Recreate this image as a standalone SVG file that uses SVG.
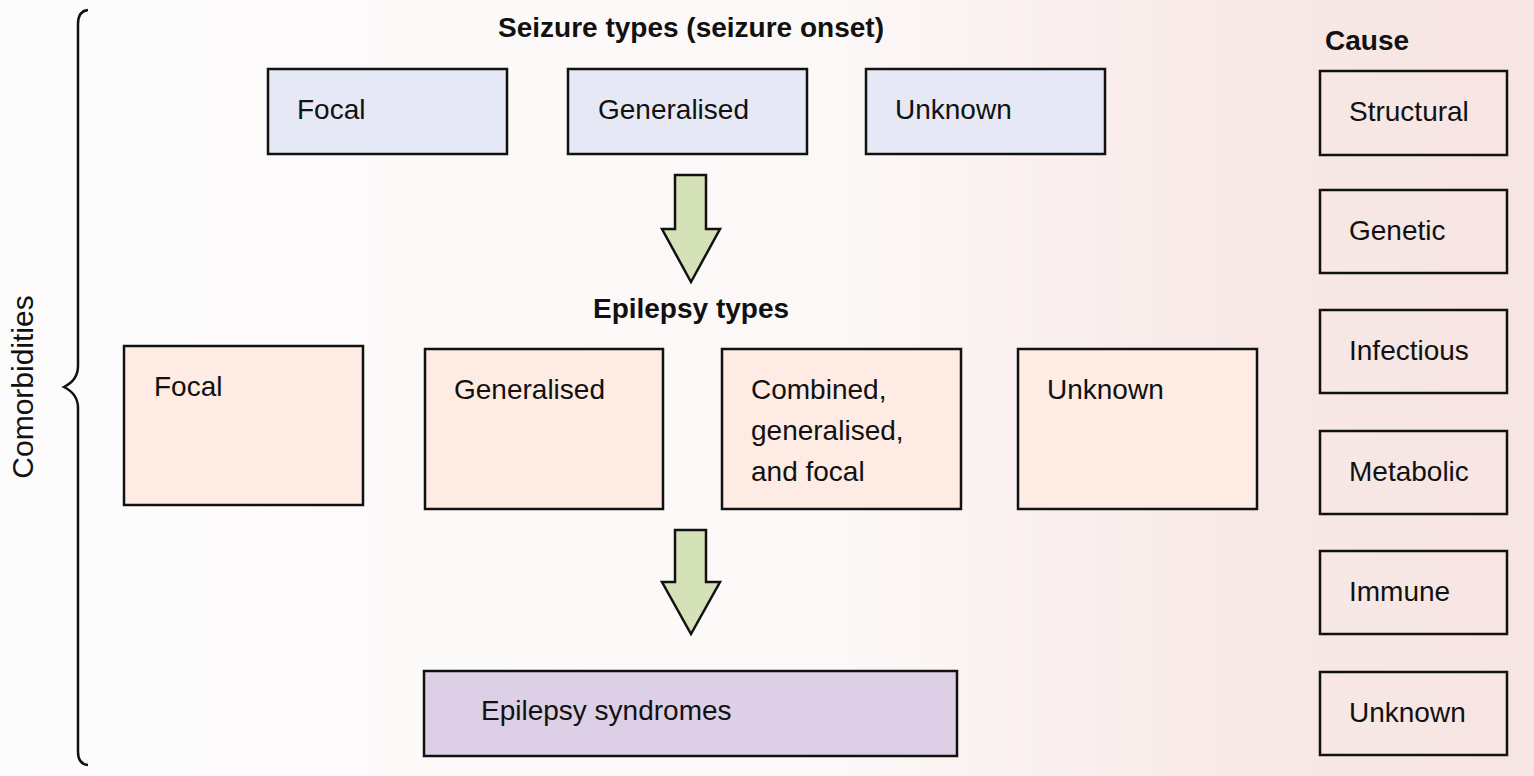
<svg xmlns="http://www.w3.org/2000/svg" width="1534" height="776" viewBox="0 0 1534 776">
<defs>
<linearGradient id="bg" x1="0" y1="0" x2="1534" y2="0" gradientUnits="userSpaceOnUse">
<stop offset="0" stop-color="#fdfcfc"/>
<stop offset="0.55" stop-color="#fcf8f7"/>
<stop offset="0.84" stop-color="#f7e7e5"/>
<stop offset="1" stop-color="#f6e5e3"/>
</linearGradient>
<style>
.box{stroke:#111;stroke-width:2.5}
.seiz{fill:#e6e9f5}
.epi{fill:#fdebe4}
.syn{fill:#dccfe6}
.cause{fill:none}
.arrow{fill:#d5e2b8;stroke:#111;stroke-width:2.5;stroke-linejoin:miter}
.t{font-family:"Liberation Sans",Arial,sans-serif;font-size:28px;fill:#111}
.h{font-family:"Liberation Sans",Arial,sans-serif;font-size:28px;font-weight:bold;fill:#111}
</style>
</defs>
<rect x="0" y="0" width="1534" height="776" fill="url(#bg)"/>

<g id="brace">
<path d="M88,10 Q78,11 78,24 L78,366 Q78,380 64,387 Q78,394 78,408 L78,752 Q78,764 88,765" fill="none" stroke="#111" stroke-width="2.5"/>
<text class="t" style="font-size:30px" transform="translate(33,387) rotate(-90)" text-anchor="middle">Comorbidities</text>
</g>

<g id="titles">
<text class="h" x="691" y="37" text-anchor="middle">Seizure types (seizure onset)</text>
<text class="h" x="691" y="318" text-anchor="middle">Epilepsy types</text>
<text class="h" x="1325" y="50">Cause</text>
</g>

<g id="seizure-focal"><rect class="box seiz" x="268" y="69" width="239" height="85"/><text class="t" x="297" y="119">Focal</text></g>
<g id="seizure-generalised"><rect class="box seiz" x="568" y="69" width="239" height="85"/><text class="t" x="598" y="119">Generalised</text></g>
<g id="seizure-unknown"><rect class="box seiz" x="866" y="69" width="239" height="85"/><text class="t" x="895" y="119">Unknown</text></g>

<g id="epilepsy-focal"><rect class="box epi" x="124" y="346" width="239" height="159"/><text class="t" x="154" y="396">Focal</text></g>
<g id="epilepsy-generalised"><rect class="box epi" x="425" y="349" width="238" height="160"/><text class="t" x="454" y="399">Generalised</text></g>
<g id="epilepsy-combined"><rect class="box epi" x="722" y="349" width="239" height="160"/>
<text class="t" x="751" y="399">Combined,</text>
<text class="t" x="751" y="440">generalised,</text>
<text class="t" x="751" y="481">and focal</text></g>
<g id="epilepsy-unknown"><rect class="box epi" x="1018" y="349" width="239" height="160"/><text class="t" x="1047" y="399">Unknown</text></g>

<g id="epilepsy-syndromes"><rect class="box syn" x="424" y="671" width="533" height="85"/><text class="t" x="481" y="720">Epilepsy syndromes</text></g>

<g id="cause-structural"><rect class="box cause" x="1320" y="71" width="187" height="84"/><text class="t" x="1349" y="121">Structural</text></g>
<g id="cause-genetic"><rect class="box cause" x="1320" y="190" width="187" height="83"/><text class="t" x="1349" y="240">Genetic</text></g>
<g id="cause-infectious"><rect class="box cause" x="1320" y="310" width="187" height="83"/><text class="t" x="1349" y="360">Infectious</text></g>
<g id="cause-metabolic"><rect class="box cause" x="1320" y="431" width="187" height="83"/><text class="t" x="1349" y="481">Metabolic</text></g>
<g id="cause-immune"><rect class="box cause" x="1320" y="551" width="187" height="83"/><text class="t" x="1349" y="601">Immune</text></g>
<g id="cause-unknown"><rect class="box cause" x="1320" y="672" width="187" height="83"/><text class="t" x="1349" y="722">Unknown</text></g>

<g id="connectors">
<path class="arrow" d="M675,175 L706,175 L706,229 L720,229 L691,282 L662,229 L675,229 Z"/>
<path class="arrow" d="M675,530 L706,530 L706,582 L720,582 L691,634 L662,582 L675,582 Z"/>
</g>
</svg>
